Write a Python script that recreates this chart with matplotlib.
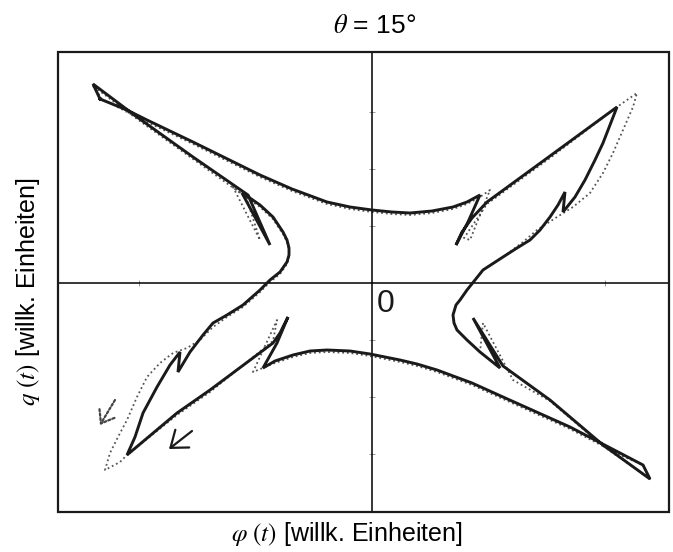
import matplotlib
matplotlib.use("Agg")
import matplotlib.pyplot as plt
from matplotlib.patches import Rectangle

plt.rcParams["font.family"] = ["Liberation Sans", "DejaVu Sans"]
plt.rcParams["mathtext.fontset"] = "stix"

# Trajektorie (willk. Einheiten), durchgezogen = Rechnung
phi_solid = [-272, -245, -225, -179, -112, -80, -45, -22, 0, 20, 38, 60, 81, 95, 108, 96, 84, 90, 100, 115,
             178, 245, 238, 231, 223, 213, 203, 191, 193, 186, 178, 168, 158, 145, 131,
             111, 95, 88, 84, 81, 82, 85, 95, 108, 128, 101, 131, 178, 231, 278, 271,
             248, 198, 131, 100, 65, 45, 28, -2, -22, -45, -62, -79, -97, -109, -95, -84, -92, -99, -162,
             -195, -245, -237, -229, -215, -202, -192, -194, -182, -169, -159, -145, -129, -112, -102,
             -92, -85, -83, -83, -85, -89, -99, -112, -125, -130, -102, -124, -179, -235, -279, -272]
q_solid = [184, 173, 163, 141, 108, 94, 81, 76, 73, 71, 70, 72, 76, 81, 88, 61, 38, 51, 65, 81,
           127, 176, 158, 140, 123, 103, 86, 71, 91, 78, 66, 53, 43, 35, 26,
           13, -7, -17, -22, -32, -40, -47, -57, -69, -85, -35, -83, -117, -162, -196, -182,
           -170, -144, -114, -100, -87, -81, -77, -71, -68, -67, -68, -72, -78, -85, -60, -34, -50, -60, -107,
           -130, -172, -154, -130, -104, -82, -69, -89, -69, -52, -40, -32, -22, -7, 3,
           11, 21, 28, 35, 43, 51, 66, 78, 87, 90, 38, 88, 126, 166, 199, 184]

# gepunktet = Messung
phi_dot = [-279, -270, -245, -225, -179, -112, -80, -45, -22, 0, 20, 38, 60, 81, 95, 108, 118, 98, 92, 115,
           178, 245, 265, 261, 251, 241, 231, 218, 201, 185, 165, 151, 131, 111, 95,
           88, 84, 81, 82, 85, 95, 108, 111, 141, 178, 231, 278, 271, 248, 198, 131,
           100, 65, 45, 28, -2, -22, -45, -62, -79, -97, -119, -95, -99, -162, -195, -245, -252, -267, -262,
           -254, -245, -235, -225, -212, -199, -185, -172, -159, -145, -129, -112, -102, -92, -85,
           -83, -83, -85, -89, -99, -112, -125, -139, -112, -126, -179, -235, -279]
q_dot = [197, 184, 171, 161, 139, 106, 92, 79, 74, 71, 69, 68, 70, 74, 79, 86, 93, 43, 45, 79,
         125, 176, 190, 176, 153, 130, 110, 90, 76, 66, 53, 41, 26, 13, -7,
         -17, -22, -32, -40, -47, -57, -69, -40, -97, -118, -163, -196, -182, -172, -146, -116,
         -102, -89, -83, -79, -73, -70, -69, -70, -74, -80, -89, -37, -58, -109, -132, -172, -179, -187, -170,
         -154, -137, -114, -94, -80, -70, -65, -57, -44, -34, -24, -9, 1, 9, 19,
         26, 33, 41, 49, 64, 76, 85, 96, 43, 86, 124, 164, 197]

fig = plt.figure(figsize=(6.73, 5.52), dpi=100)
ax = fig.add_axes([58 / 673, 40 / 552, 611 / 673, 460 / 552])

ax.plot(phi_dot, q_dot, color="#555555", lw=1.3, ls=(0, (1, 1.6)), zorder=2)
ax.plot(phi_solid, q_solid, color="#1a1a1a", lw=2.1, solid_joinstyle="miter", zorder=3)

# Laufrichtung
ax.annotate("", xy=(-203, -166), xytext=(-180, -148),
            arrowprops=dict(arrowstyle="->,head_length=0.6,head_width=0.45",
                            color="#1a1a1a", lw=1.6, mutation_scale=18,
                            shrinkA=0, shrinkB=0))
ax.annotate("", xy=(-272, -142), xytext=(-257, -117),
            arrowprops=dict(arrowstyle="->,head_length=0.6,head_width=0.45",
                            color="#444444", lw=1.6, ls=(0, (1, 1)), mutation_scale=14,
                            shrinkA=0, shrinkB=0))

ax.set_xlim(-314, 297)
ax.set_ylim(-229, 231)

# Achsenkreuz durch den Ursprung, dazu der Rahmen
for s in ["top", "right"]:
    ax.spines[s].set_visible(False)
ax.spines["left"].set_position(("data", 0))
ax.spines["bottom"].set_position(("data", 0))
ax.spines["left"].set_linewidth(1.1)
ax.spines["bottom"].set_linewidth(1.1)
ax.add_patch(Rectangle((0, 0), 1, 1, transform=ax.transAxes, fill=False,
                       lw=1.6, ec="#1a1a1a", clip_on=False, zorder=5))
ax.set_xticks([-233, 233])
ax.set_yticks([-171, -114, -57, 57, 114, 171])
ax.tick_params(direction="inout", length=4, width=0.6, colors="#888888",
               labelbottom=False, labelleft=False)

ax.text(5, -6, "0", fontsize=23, ha="left", va="top", color="#1a1a1a")

fig.text(0.556, 0.952, r"$\theta$ = 15°", fontsize=19, ha="center", va="center")
fig.text(0.516, 0.033, r"$\varphi\ (t)$ [willk. Einheiten]", fontsize=18, ha="center", va="center")
fig.text(0.042, 0.472, r"$q\ (t)$ [willk. Einheiten]", fontsize=18, ha="center", va="center",
         rotation=90)

fig.savefig("out.png", dpi=100)
